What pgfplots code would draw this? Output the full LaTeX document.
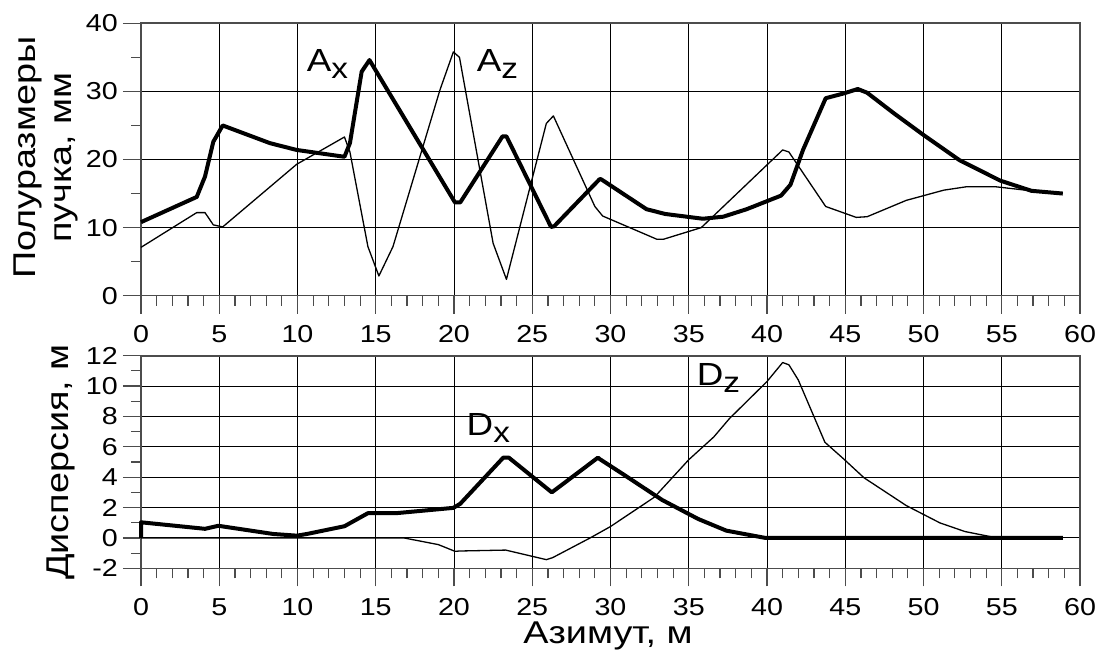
\documentclass[border=0pt]{standalone}
\usepackage{pgfplots}
\pgfplotsset{compat=1.18}
\usepackage{fontspec}
\setmainfont{Liberation Sans}
\newcommand{\tf}{\fontsize{24.5}{28}\selectfont}
\newcommand{\lf}{\fontsize{31.5}{36}\selectfont}
\newcommand{\wide}[1]{\scalebox{1.2}[1]{#1}}
\pgfplotsset{
 common/.style={
  scale only axis, width=939pt,
  xmin=0, xmax=60, xtick={0,5,...,60}, minor x tick num=4,
  tick pos=left, tick align=outside,
  major tick length=18pt, minor tick length=10pt,
  grid=major, major grid style={black, line width=1pt},
  axis line style={black!70, line width=1.6pt},
  every tick/.style={black!70, line width=1.2pt},
  /pgf/number format/assume math mode=true,
  xticklabel={\scalebox{1.17}[1]{\tf\pgfmathprintnumber{\tick}}},
  yticklabel={\scalebox{1.17}[1]{\tf\pgfmathprintnumber{\tick}}},
  xticklabel style={inner sep=0pt, yshift=-11.7pt},
  yticklabel style={inner sep=0pt, xshift=-5pt},
  clip=false,
 },
 thickl/.style={black, line width=4pt, line join=round},
 thinl/.style={black, line width=1.3pt, line join=round},
}
\begin{document}
\begin{tikzpicture}
\path[use as bounding box] (0pt,0pt) rectangle (1099pt,662pt);
% top axis
\begin{axis}[common, at={(141pt,366.3pt)}, anchor=south west, height=272.4pt,
  ymin=0, ymax=40, ytick={0,10,...,40}, minor y tick num=1]
\addplot[thickl] coordinates {
(0,10.8) (3.56,14.5) (4.09,17.5) (4.62,22.6) (5.22,25.0) (8.24,22.4) (9.95,21.4)
(13.0,20.4) (13.35,22.4) (14.1,32.9) (14.6,34.6) (20.06,13.7) (20.4,13.7)
(23.1,23.4) (23.35,23.4) (26.2,10.1) (26.4,10.2) (29.3,17.1) (29.4,17.1)
(32.3,12.7) (33.5,12.0) (35.9,11.3) (37.2,11.6) (38.7,12.7) (40.9,14.7)
(41.5,16.3) (42.3,21.4) (43.75,29.0) (44.9,29.7) (45.8,30.35) (46.4,29.8)
(48.1,26.8) (50.0,23.6) (52.3,19.9) (54.9,16.9) (56.9,15.4) (58.9,15.0)};
\addplot[thinl] coordinates {
(0,7.1) (3.56,12.2) (4.09,12.2) (4.62,10.4) (5.22,10.1) (9.95,19.3) (13.0,23.3)
(13.35,21.1) (14.5,7.2) (15.2,2.9) (16.1,7.2) (19.1,30.2) (19.96,35.8)
(20.35,35.0) (22.5,7.7) (23.35,2.4) (25.9,25.3) (26.35,26.4) (29.0,13.1)
(29.5,11.7) (32.95,8.3) (33.4,8.3) (35.8,10.0) (41.0,21.4) (41.4,21.1)
(43.75,13.1) (45.7,11.5) (46.4,11.6) (48.9,14.0) (51.3,15.5) (52.75,16.0)
(54.6,16.0) (56.9,15.4) (58.9,15.0)};
\node[anchor=base west, inner sep=0pt] at (axis cs:10.59,32.9)
  {\scalebox{1.15}[1]{\fontsize{32}{36}\selectfont A\raisebox{-7pt}{\fontsize{29}{32}\selectfont x}}};
\node[anchor=base west, inner sep=0pt] at (axis cs:21.45,32.9)
  {\scalebox{1.15}[1]{\fontsize{32}{36}\selectfont A\raisebox{-7pt}{\fontsize{29}{32}\selectfont z}}};
\end{axis}
% bottom axis
\begin{axis}[common, at={(141pt,93.7pt)}, anchor=south west, height=212.6pt,
  ymin=-2, ymax=12, ytick={-2,0,...,12}, minor y tick num=1]
\addplot[thinl] coordinates {
(0,0) (16.8,0) (19.0,-0.44) (20.06,-0.88) (20.4,-0.86) (23.3,-0.8) (25.9,-1.43)
(26.3,-1.3) (28.7,0) (30.0,0.75) (32.8,2.68) (35.0,5.15) (36.6,6.65) (37.6,7.86)
(40.0,10.3) (41.0,11.55) (41.4,11.4) (42.0,10.4) (43.7,6.3) (44.9,5.2)
(46.2,3.96) (48.9,2.13) (51.05,0.99) (52.65,0.42) (54.5,0.04) (55,0) (58.9,0)};
\addplot[thickl] coordinates {
(0,0) (0,1.03) (4.09,0.6) (4.94,0.8) (8.45,0.26) (9.95,0.15) (10.6,0.26)
(13.0,0.77) (14.5,1.63) (16.3,1.63) (19.96,1.98) (20.4,2.25) (23.15,5.29)
(23.5,5.29) (26.25,3.0) (29.2,5.29) (29.3,5.2) (30.8,4.2) (33.3,2.5)
(35.6,1.25) (37.4,0.48) (39.9,0) (58.9,0)};
\node[anchor=base west, inner sep=0pt] at (axis cs:20.8,6.76)
  {\scalebox{1.15}[1]{\fontsize{32}{36}\selectfont D\raisebox{-7pt}{\fontsize{29}{32}\selectfont x}}};
\node[anchor=base west, inner sep=0pt] at (axis cs:35.5,10.07)
  {\scalebox{1.15}[1]{\fontsize{32}{36}\selectfont D\raisebox{-7pt}{\fontsize{29}{32}\selectfont z}}};
\end{axis}
% axis labels
\node[rotate=90, anchor=base, inner sep=0pt] at (35pt,504.5pt) {\lf\wide{Полуразмеры}};
\node[rotate=90, anchor=base, inner sep=0pt] at (71.7pt,504.5pt) {\lf\wide{пучка, мм}};
\node[rotate=90, anchor=base, inner sep=0pt] at (68.3pt,200pt) {\lf\wide{Дисперсия, м}};
\node[anchor=base, inner sep=0pt] at (608pt,19pt) {\lf\wide{Азимут, м}};
\end{tikzpicture}
\end{document}
